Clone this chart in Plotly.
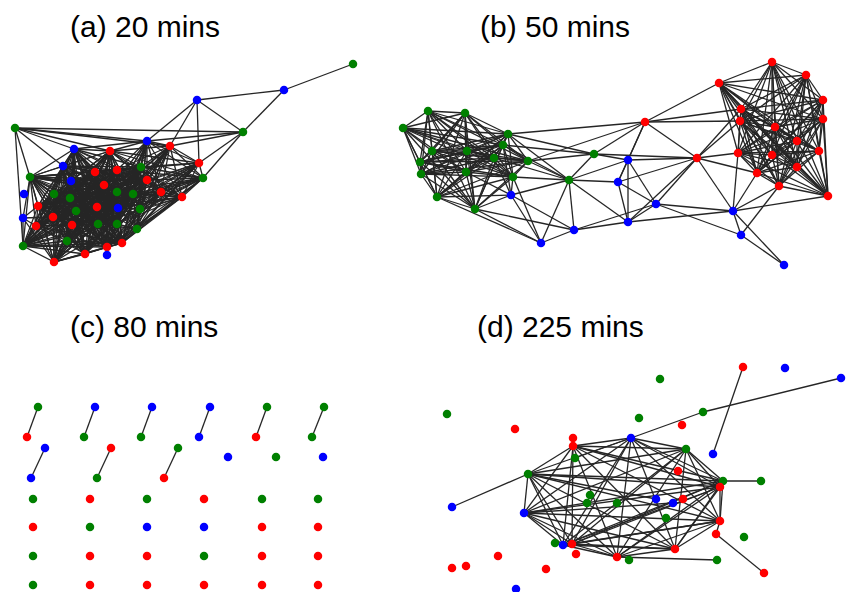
import itertools
import plotly.graph_objects as go

# Node layouts for the four snapshots: (x, y, community)
nodes_a = [
    (15, 128, "g"), (197, 100, "b"), (284, 90, "b"), (353, 64, "g"), (243, 132, "g"),
    (147, 141, "b"), (170, 146, "r"), (74, 149, "b"), (110, 151, "r"), (199, 163, "r"),
    (63, 166, "b"), (95, 172, "r"), (117, 170, "r"), (141, 167, "g"), (30, 177, "g"),
    (71, 181, "b"), (203, 178, "g"), (147, 180, "r"), (104, 185, "r"), (117, 192, "g"),
    (133, 194, "g"), (161, 192, "r"), (24, 194, "b"), (54, 194, "g"), (182, 197, "r"),
    (70, 198, "g"), (38, 206, "r"), (97, 207, "r"), (118, 208, "b"), (76, 211, "g"),
    (140, 209, "g"), (53, 217, "r"), (23, 218, "b"), (36, 226, "r"), (72, 225, "r"),
    (98, 224, "g"), (117, 224, "g"), (137, 229, "g"), (67, 241, "g"), (122, 243, "r"),
    (107, 247, "r"), (23, 246, "g"), (85, 254, "r"), (107, 255, "b"), (54, 262, "r"),
]
groups_a = [
    [7, 8, 10, 11, 12, 13, 14, 15, 17, 18, 19, 20, 23, 25, 26, 27, 28, 29, 31, 33,
     34, 35, 36, 38, 39, 40, 41, 42, 44],
    [5, 6, 8, 9, 12, 13, 16, 17, 19, 20, 21, 24, 27, 28, 30, 35, 36, 37, 39, 40],
]
edges_a = [
    (0, 5), (0, 7), (0, 8), (0, 6), (0, 10), (0, 14), (0, 41), (0, 4),
    (1, 5), (1, 6), (1, 4), (1, 2), (1, 9), (2, 3), (2, 4),
    (4, 6), (4, 9), (4, 16), (4, 5),
    (14, 32), (32, 41), (32, 44), (32, 33), (32, 26), (32, 31), (41, 33),
    (5, 7), (5, 8), (5, 12), (6, 12), (24, 37), (16, 37),
]

nodes_b = [
    (428, 111, "g"), (465, 113, "g"), (403, 128, "g"), (508, 134, "g"), (503, 145, "g"),
    (432, 151, "g"), (467, 151, "g"), (494, 158, "g"), (528, 161, "g"), (420, 162, "g"),
    (421, 174, "g"), (466, 172, "g"), (513, 177, "g"), (437, 197, "g"), (475, 209, "g"),
    (511, 195, "b"), (569, 180, "g"), (594, 154, "g"), (574, 230, "b"), (541, 243, "b"),
    (772, 62, "r"), (806, 75, "r"), (719, 83, "r"), (823, 100, "r"), (741, 109, "r"),
    (823, 119, "r"), (740, 121, "r"), (645, 122, "r"), (775, 127, "r"), (797, 141, "r"),
    (819, 151, "r"), (738, 153, "r"), (697, 158, "r"), (772, 155, "r"), (797, 167, "r"),
    (757, 173, "r"), (779, 186, "r"), (828, 196, "r"), (628, 160, "b"), (618, 182, "b"),
    (656, 204, "b"), (733, 211, "b"), (628, 222, "b"), (741, 235, "b"), (784, 265, "b"),
]
groups_b = [
    list(range(0, 15)),
    [20, 21, 22, 23, 24, 25, 26, 28, 29, 30, 31, 33, 34, 35, 36, 37],
]
edges_b = [
    (15, 12), (15, 7), (15, 4), (15, 11), (15, 14), (15, 13), (15, 19), (15, 18), (15, 16),
    (16, 8), (16, 12), (16, 3), (16, 18), (16, 19), (16, 17), (16, 38), (16, 39), (16, 42),
    (16, 4), (16, 7), (17, 3), (17, 4), (17, 8), (17, 27), (17, 38), (17, 32),
    (27, 38), (27, 39), (27, 22), (27, 24), (27, 26), (27, 32),
    (32, 38), (32, 40), (32, 41), (32, 31), (32, 26), (32, 24), (32, 39), (32, 42), (32, 35),
    (38, 39), (38, 42), (38, 40), (39, 40), (39, 42), (40, 41), (40, 42), (40, 18),
    (41, 43), (41, 44), (41, 31), (41, 35), (41, 36), (41, 37), (41, 42),
    (43, 44), (43, 36), (43, 40), (42, 18), (18, 19), (18, 14), (19, 14), (19, 12),
    (8, 27), (3, 27), (14, 18), (13, 19),
]

nodes_c = [
    (38, 407, "g"), (27, 437, "r"), (95, 407, "b"), (84, 437, "g"), (152, 407, "b"),
    (141, 437, "g"), (210, 407, "b"), (199, 437, "b"), (267, 407, "g"), (256, 437, "r"),
    (324, 407, "g"), (312, 437, "g"),
    (45, 448, "b"), (31, 478, "b"), (111, 448, "r"), (97, 478, "g"), (178, 448, "g"),
    (164, 478, "r"), (228, 457, "b"), (276, 457, "g"), (323, 457, "b"),
    (33, 499, "g"), (90, 499, "r"), (147, 499, "g"), (204, 499, "r"), (262, 499, "g"), (318, 499, "g"),
    (33, 527, "r"), (90, 527, "g"), (147, 527, "b"), (204, 527, "b"), (262, 527, "r"), (318, 527, "r"),
    (33, 556, "g"), (90, 556, "r"), (147, 556, "r"), (204, 556, "g"), (262, 556, "r"), (318, 556, "r"),
    (33, 585, "g"), (90, 585, "r"), (147, 585, "r"), (204, 585, "r"), (262, 585, "r"), (318, 585, "r"),
]
groups_c = []
edges_c = [(0, 1), (2, 3), (4, 5), (6, 7), (8, 9), (10, 11), (12, 13), (14, 15), (16, 17)]

nodes_d = [
    (743, 367, "r"), (785, 368, "b"), (841, 378, "b"), (660, 379, "g"), (447, 414, "g"),
    (703, 412, "g"), (639, 418, "g"), (515, 429, "r"), (682, 425, "r"), (631, 438, "b"),
    (573, 438, "r"), (573, 446, "r"), (686, 449, "g"), (713, 454, "b"), (575, 458, "g"),
    (678, 471, "r"), (528, 474, "g"), (723, 481, "g"), (761, 481, "g"), (720, 487, "r"),
    (590, 495, "g"), (587, 503, "g"), (617, 503, "g"), (656, 499, "b"), (673, 503, "b"),
    (683, 499, "r"), (452, 507, "b"), (524, 513, "b"), (666, 518, "g"), (720, 521, "r"),
    (716, 534, "r"), (744, 537, "g"), (555, 543, "g"), (563, 545, "b"), (572, 544, "r"),
    (675, 549, "r"), (498, 556, "r"), (576, 554, "r"), (617, 557, "r"), (629, 560, "g"),
    (717, 560, "g"), (452, 568, "r"), (466, 566, "r"), (546, 569, "r"), (764, 573, "r"),
    (516, 589, "b"),
]
groups_d = [[9, 11, 12, 16, 27, 33, 34, 38, 35, 29, 19, 17]]
edges_d = [
    (26, 16), (9, 5), (5, 2), (0, 13), (17, 18), (30, 44), (30, 29), (38, 40),
    (11, 10), (14, 9), (23, 16), (24, 27),
]

titles = [
    ("(a) 20 mins", 145, 26), ("(b) 50 mins", 555, 26),
    ("(c) 80 mins", 144, 326), ("(d) 225 mins", 560, 326),
]

palette = {"r": "#ff0000", "g": "#008000", "b": "#0000ff"}

panels = [
    (nodes_a, groups_a, edges_a),
    (nodes_b, groups_b, edges_b),
    (nodes_c, groups_c, edges_c),
    (nodes_d, groups_d, edges_d),
]

fig = go.Figure()

for nodes, groups, extra in panels:
    links = set()
    for grp in groups:
        for i, j in itertools.combinations(grp, 2):
            links.add((min(i, j), max(i, j)))
    for i, j in extra:
        links.add((min(i, j), max(i, j)))
    ex, ey = [], []
    for i, j in sorted(links):
        ex += [nodes[i][0], nodes[j][0], None]
        ey += [nodes[i][1], nodes[j][1], None]
    fig.add_trace(go.Scatter(
        x=ex, y=ey, mode="lines",
        line=dict(color="black", width=1.3), opacity=0.85,
        hoverinfo="skip", showlegend=False,
    ))

for nodes, _, _ in panels:
    fig.add_trace(go.Scatter(
        x=[n[0] for n in nodes], y=[n[1] for n in nodes], mode="markers",
        marker=dict(size=8.5, color=[palette[n[2]] for n in nodes], line=dict(width=0)),
        showlegend=False,
    ))

for text, tx, ty in titles:
    fig.add_annotation(
        x=tx, y=ty, xref="x", yref="y", text=text, showarrow=False,
        font=dict(family="Liberation Sans, Arial, sans-serif", size=30, color="black"),
    )

fig.update_xaxes(range=[0, 847], visible=False, fixedrange=True)
fig.update_yaxes(range=[592, 0], visible=False, fixedrange=True)
fig.update_layout(
    width=847, height=592, margin=dict(l=0, r=0, t=0, b=0),
    paper_bgcolor="white", plot_bgcolor="white",
)

fig.write_html("out.html")
